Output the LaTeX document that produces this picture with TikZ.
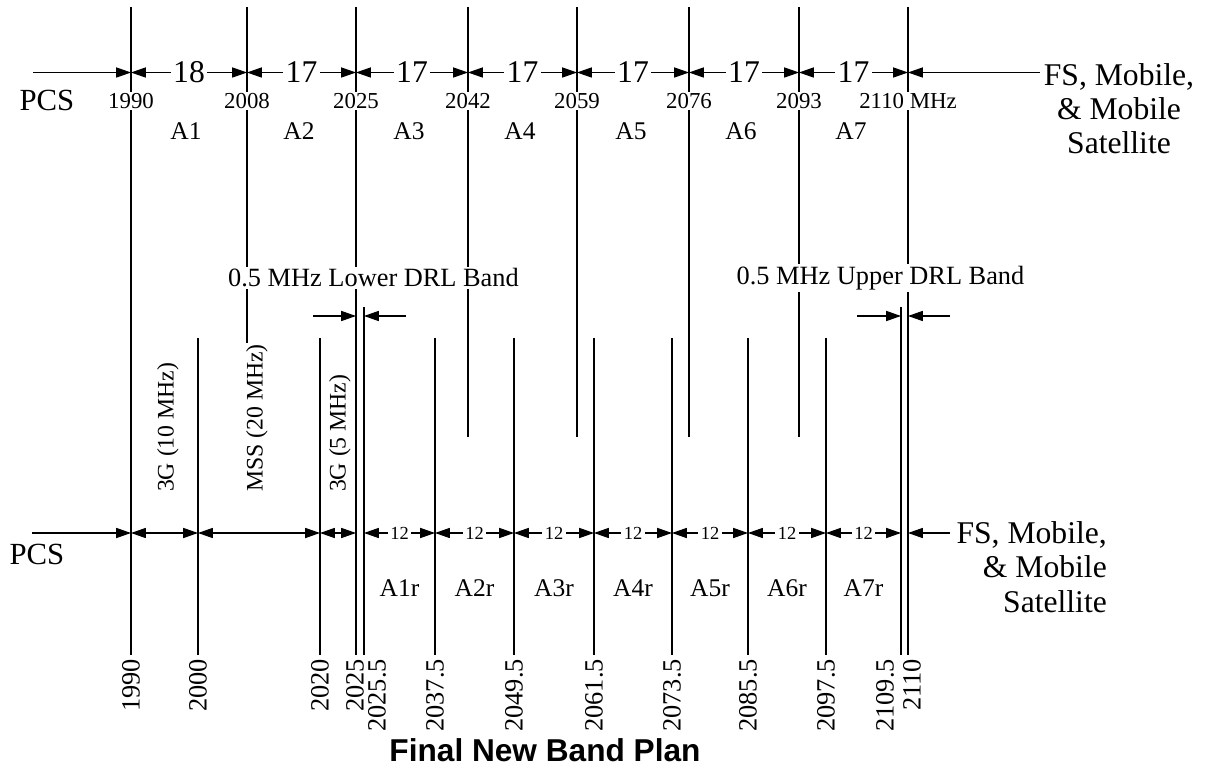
\documentclass[tikz,border=0pt]{standalone}
\usepackage{fontspec}
\setmainfont{Liberation Serif}
\newfontfamily\titlefont{Liberation Sans}
\usetikzlibrary{arrows.meta}

\begin{document}
\begin{tikzpicture}[
  x=0.02cm, y=-0.02cm,
  edge/.style={line width=0.6pt},
  arrow/.style={-{Triangle[length=8.5pt,width=5.8pt]}, line width=0.6pt},
  dim/.style={{Triangle[length=8.5pt,width=5.8pt]}-{Triangle[length=8.5pt,width=5.8pt]}, line width=0.6pt},
  freqlabel/.style={fill=white, inner sep=1pt, font=\fontsize{13}{15}\selectfont},
  widthlabel/.style={fill=white, inner sep=1.5pt, font=\fontsize{18}{20}\selectfont},
  smallwidth/.style={fill=white, inner sep=1.5pt, font=\fontsize{10.5}{12}\selectfont},
  blocklabel/.style={font=\fontsize{14.5}{16}\selectfont},
  sidetext/.style={font=\fontsize{17.5}{19}\selectfont},
  servlabel/.style={font=\fontsize{18}{19.5}\selectfont},
  drllabel/.style={fill=white, inner sep=1pt, font=\fontsize{15}{17}\selectfont},
  uselabel/.style={rotate=90, anchor=west, fill=white, inner sep=1pt, font=\fontsize{13.5}{15}\selectfont},
  botlabel/.style={rotate=90, anchor=east, inner sep=1pt, font=\fontsize{15}{17}\selectfont},
  titlelabel/.style={font=\titlefont\bfseries\fontsize{18}{20}\selectfont},
]
\useasboundingbox (0,0) rectangle (1207,773);

% Upper plan: band edges
\foreach \f/\x/\e in {1990/131/437, 2008/247/437, 2025/356/655, 2042/468/437,
                      2059/577/437, 2076/689/437, 2093/799/437, 2110/908/655} {
  \draw[edge] (\x,7) -- (\x,\e);
  \coordinate (t\f) at (\x,72.5);
}

% Lower plan: band edges
\foreach \f/\x/\s in {1990/131/338, 2000/198/338, 2020/320/338, 20255/364/307,
                      20375/435/338, 20495/514/338, 20615/594/338, 20735/672/338,
                      20855/748/338, 20975/826/338, 21095/901/307} {
  \draw[edge] (\x,\s) -- (\x,655);
  \coordinate (b\f) at (\x,533);
}
\coordinate (b2025) at (356,533);
\coordinate (b2110) at (908,533);

% Upper plan: widths
\coordinate (tpcs) at (33,72.5);
\coordinate (tfs) at (1040,72.5);
\draw[arrow] (tpcs) -- (t1990);
\draw[arrow] (tfs) -- (t2110);
\foreach \a/\b/\w in {1990/2008/18, 2008/2025/17, 2025/2042/17, 2042/2059/17,
                      2059/2076/17, 2076/2093/17, 2093/2110/17}
  \draw[dim] (t\a) -- (t\b) node[midway, widthlabel] {\w};

\foreach \f/\x in {1990/131, 2008/247, 2025/356, 2042/468, 2059/577, 2076/689, 2093/799}
  \node[freqlabel] (tf\f) at (\x,101) {\f};
\node[freqlabel] (tf2110) at (908,101) {2110 MHz};

\foreach \n/\x in {1/186, 2/299, 3/409, 4/520, 5/631, 6/741, 7/851}
  \node[blocklabel] (a\n) at (\x,131.5) {A\n};

\node[sidetext] (pcsTop) at (47,100.5) {PCS};
\node[servlabel, align=center] (fsTop) at (1119,108.5) {FS, Mobile,\\ \& Mobile\\ Satellite};

% DRL bands
\node[drllabel] (lowDrl) at (373.5,278) {0.5 MHz Lower DRL Band};
\node[drllabel] (upDrl) at (880.5,278) {0.5 MHz Upper DRL Band};
\coordinate (ldA) at (313,316);
\coordinate (ldB) at (356,316);
\coordinate (ldC) at (364,316);
\coordinate (ldD) at (406,316);
\draw[arrow] (ldA) -- (ldB);
\draw[arrow] (ldD) -- (ldC);
\coordinate (udA) at (857,316);
\coordinate (udB) at (901,316);
\coordinate (udC) at (908,316);
\coordinate (udD) at (950,316);
\draw[arrow] (udA) -- (udB);
\draw[arrow] (udD) -- (udC);

% Lower plan: widths
\coordinate (bpcs) at (32,533);
\coordinate (bfs) at (950,533);
\draw[arrow] (bpcs) -- (b1990);
\draw[arrow] (bfs) -- (b2110);
\draw[dim] (b1990) -- (b2000);
\draw[dim] (b2000) -- (b2020);
\draw[dim] (b2020) -- (b2025);
\foreach \a/\b in {20255/20375, 20375/20495, 20495/20615, 20615/20735,
                   20735/20855, 20855/20975, 20975/21095}
  \draw[dim] (b\a) -- (b\b) node[midway, smallwidth] {12};

\foreach \n/\x in {1/399.5, 2/474.5, 3/554, 4/633, 5/710, 6/787, 7/863.5}
  \node[blocklabel] (ar\n) at (\x,588) {A\n r};

\node[uselabel] (g10) at (168,494) {3G (10 MHz)};
\node[uselabel] (mss) at (257,494) {MSS (20 MHz)};
\node[uselabel] (g5) at (340,494) {3G (5 MHz)};

\node[sidetext] (pcsLow) at (37,554) {PCS};
\node[servlabel, align=right, anchor=east] (fsLow) at (1113,567) {FS, Mobile,\\ \& Mobile\\ Satellite};

% Lower plan: edge frequencies
\foreach \x/\t in {131/1990, 198/2000, 320/2020, 355/2025, 377/2025.5, 435/2037.5,
                   514/2049.5, 594/2061.5, 672/2073.5, 748/2085.5, 826/2097.5,
                   885/2109.5, 912/2110}
  \node[botlabel] at (\x,657) {\t};

\node[titlelabel] (title) at (545,750) {Final New Band Plan};
\end{tikzpicture}
\end{document}
